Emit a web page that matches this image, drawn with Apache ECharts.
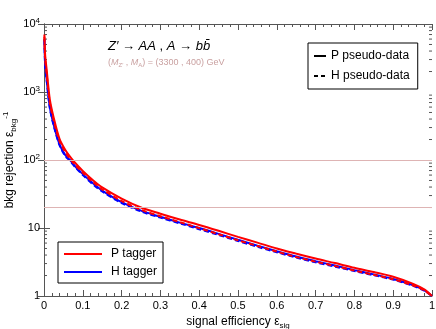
<!DOCTYPE html>
<html>
<head>
<meta charset="utf-8">
<script src="https://cdn.jsdelivr.net/npm/echarts@6/dist/echarts.min.js"></script>
<style>
  html, body { margin: 0; padding: 0; background: #fff; }
  #chart { width: 436px; height: 329px; }
</style>
</head>
<body>
<div id="chart"></div>
<script>
// signal efficiency grid shared by the four curves
const effSig = [0.001, 0.003, 0.007, 0.015, 0.025, 0.04, 0.055, 0.067, 0.08, 0.1, 0.127, 0.15,
  0.2, 0.25, 0.3, 0.35, 0.4, 0.45, 0.5, 0.55, 0.6, 0.65, 0.7, 0.75, 0.8, 0.85, 0.9, 0.95, 0.98, 1.0];

// background rejection
const pTaggerPData = [7000, 3500, 2100, 780, 420, 205, 140, 112, 91, 69, 50, 39.5,
  27, 20, 16.2, 13.3, 11.1, 9.1, 7.4, 6.1, 5.0, 4.2, 3.55, 3.05, 2.6, 2.25, 1.92, 1.52, 1.25, 1];
const pTaggerHData = [6500, 3000, 1800, 700, 380, 190, 130, 104, 85, 65, 47, 37,
  25, 18.5, 14.9, 12.2, 9.95, 8.1, 6.6, 5.45, 4.5, 3.75, 3.2, 2.76, 2.37, 2.05, 1.76, 1.44, 1.21, 1];
const hTaggerPData = [6000, 2600, 1500, 600, 330, 170, 118, 100, 81, 62, 45, 35.5,
  24, 18.0, 14.6, 12.0, 10.0, 8.2, 6.7, 5.5, 4.55, 3.8, 3.25, 2.8, 2.4, 2.08, 1.78, 1.45, 1.22, 1];
const hTaggerHData = [5800, 2400, 1450, 580, 320, 165, 114, 97, 79, 60, 43.5, 34.5,
  23.3, 17.5, 14.2, 11.7, 9.6, 7.9, 6.45, 5.3, 4.4, 3.68, 3.12, 2.7, 2.33, 2.02, 1.74, 1.42, 1.2, 1];

const refLines = [100, 20];
const yDecades = [1, 10, 100, 1000, 10000];
// log minor ticks (2..9 in each decade)
const yMinor = [];
for (let d = 0; d < yDecades.length - 1; d++) {
  for (let m = 2; m <= 9; m++) yMinor.push(m * yDecades[d]);
}

const RED = '#ff0000';
const BLUE = '#0000ff';
const AXIS = '#555';

function pairs(ys) {
  return effSig.map((x, i) => [x, ys[i]]);
}

function curve(name, ys, color, dashed) {
  return {
    name: name,
    type: 'line',
    data: pairs(ys),
    symbol: 'none',
    smooth: 0.3,
    lineStyle: { color: color, width: 2, type: dashed ? [5, 3] : 'solid' },
    itemStyle: { color: color },
    z: 3
  };
}

function dummy(name, color, dashed, w) {
  return {
    name: name,
    type: 'line',
    data: [],
    symbol: 'none',
    lineStyle: { color: color, width: w, type: dashed ? [4, 3] : 'solid' },
    itemStyle: { color: color }
  };
}

let chart = echarts.init(document.getElementById('chart'));

let redSolid = curve('P tagger / P pseudo-data', pTaggerPData, RED, false);
redSolid.markLine = {
  silent: true,
  symbol: 'none',
  label: { show: false },
  lineStyle: { color: '#deb4b4', width: 1, type: 'solid' },
  data: refLines.map(v => ({ yAxis: v }))
};

let option = {
  animation: false,
  textStyle: { fontFamily: 'Liberation Sans' },
  grid: { left: 44, right: 4, top: 24, bottom: 33, containLabel: false, outerBoundsMode: 'none' },
  xAxis: [
    {
      type: 'value',
      min: 0,
      max: 1,
      interval: 0.1,
      name: 'signal efficiency ε{sub|sig}',
      nameLocation: 'middle',
      nameGap: 18,
      nameTextStyle: {
        color: '#000', fontSize: 12,
        rich: { sub: { fontSize: 8, padding: [7, 0, 0, 0] } }
      },
      axisLine: { lineStyle: { color: AXIS, width: 1 } },
      axisTick: { inside: true, length: 6, lineStyle: { color: AXIS } },
      minorTick: { show: true, splitNumber: 5, length: 3, lineStyle: { color: AXIS } },
      splitLine: { show: false },
      axisLabel: { color: '#000', fontSize: 11, margin: 4, formatter: v => String(v) }
    },
    {
      type: 'value',
      position: 'top',
      min: 0,
      max: 1,
      interval: 0.1,
      axisLine: { show: true, lineStyle: { color: AXIS, width: 1 } },
      axisTick: { inside: true, length: 6, lineStyle: { color: AXIS } },
      minorTick: { show: true, splitNumber: 5, length: 3, lineStyle: { color: AXIS } },
      splitLine: { show: false },
      axisLabel: { show: false }
    }
  ],
  yAxis: [
    {
      type: 'log',
      logBase: 10,
      min: 1,
      max: 10000,
      name: 'bkg rejection ε{sub|bkg}{sup|-1}',
      nameLocation: 'middle',
      nameGap: 26,
      nameMoveOverlap: false,
      nameTextStyle: {
        color: '#000', fontSize: 12,
        rich: {
          sub: { fontSize: 8, padding: [8, 0, 0, 0] },
          sup: { fontSize: 8, padding: [0, 0, 8, 0] }
        }
      },
      axisLine: { show: true, lineStyle: { color: AXIS, width: 1 } },
      axisTick: { inside: true, length: 6, lineStyle: { color: AXIS } },
      splitLine: { show: false },
      axisLabel: {
        color: '#000',
        fontSize: 11,
        margin: 4,
        formatter: function (v) {
          if (v < 100) return String(v);
          return '{b|10}{s|' + Math.round(Math.log10(v)) + '}';
        },
        rich: {
          b: { fontSize: 11 },
          s: { fontSize: 8, padding: [0, 0, 7, 0] }
        }
      }
    },
    {
      type: 'log',
      logBase: 10,
      min: 1,
      max: 10000,
      position: 'right',
      axisLine: { show: true, lineStyle: { color: AXIS, width: 1 } },
      axisTick: { inside: true, length: 6, lineStyle: { color: AXIS } },
      splitLine: { show: false },
      axisLabel: { show: false }
    }
  ],
  legend: [
    {
      data: ['P pseudo-data', 'H pseudo-data'],
      orient: 'vertical',
      left: 308,
      top: 43,
      itemWidth: 12,
      itemHeight: 10,
      itemGap: 8,
      padding: [7, 8, 7, 5],
      borderColor: '#000',
      borderWidth: 1,
      itemStyle: { opacity: 0 },
      textStyle: { color: '#000', fontSize: 12, fontFamily: 'Liberation Sans' }
    },
    {
      data: ['P tagger', 'H tagger'],
      orient: 'vertical',
      left: 58,
      top: 242,
      itemWidth: 38,
      itemHeight: 10,
      itemGap: 6,
      padding: [6, 6, 5, 5],
      borderColor: '#000',
      borderWidth: 1,
      itemStyle: { opacity: 0 },
      textStyle: { color: '#000', fontSize: 12, fontFamily: 'Liberation Sans', padding: [0, 0, 0, 4] }
    }
  ],
  graphic: [
    {
      type: 'text',
      left: 108,
      top: 40,
      style: {
        text: '{i|Z′} → {i|AA} , {i|A} → {i|bb̄}',
        fill: '#000',
        font: '13px "Liberation Sans"',
        rich: { i: { fontStyle: 'italic', fontSize: 13, fontFamily: 'Liberation Sans' } }
      }
    },
    {
      type: 'text',
      left: 108,
      top: 58,
      style: {
        text: '({i|M}{s|Z′} , {i|M}{s|A}) = (3300 , 400) GeV',
        fill: '#c9a0a0',
        font: '9px "Liberation Sans"',
        rich: {
          i: { fontStyle: 'italic', fontSize: 9, fill: '#c9a0a0' },
          s: { fontSize: 6, fill: '#c9a0a0', padding: [5, 0, 0, 0] }
        }
      }
    }
  ],
  series: [
    {
      type: 'custom',
      silent: true,
      xAxisIndex: 0,
      yAxisIndex: 0,
      data: yMinor.map(v => [0, v]),
      encode: { x: 0, y: 1 },
      renderItem: function (params, api) {
        const v = api.value(1);
        const l = api.coord([0, v]);
        const r = api.coord([1, v]);
        const st = { stroke: AXIS, lineWidth: 1 };
        return {
          type: 'group',
          children: [
            { type: 'line', shape: { x1: l[0], y1: l[1], x2: l[0] + 3, y2: l[1] }, style: st },
            { type: 'line', shape: { x1: r[0] - 3, y1: r[1], x2: r[0], y2: r[1] }, style: st }
          ]
        };
      }
    },
    dummy('P pseudo-data', '#000', false, 1.5),
    dummy('H pseudo-data', '#000', true, 1.5),
    dummy('P tagger', RED, false, 2),
    dummy('H tagger', BLUE, false, 2),
    curve('H tagger / H pseudo-data', hTaggerHData, BLUE, true),
    curve('H tagger / P pseudo-data', hTaggerPData, BLUE, false),
    curve('P tagger / H pseudo-data', pTaggerHData, RED, true),
    redSolid
  ]
};

chart.setOption(option);
</script>
</body>
</html>
